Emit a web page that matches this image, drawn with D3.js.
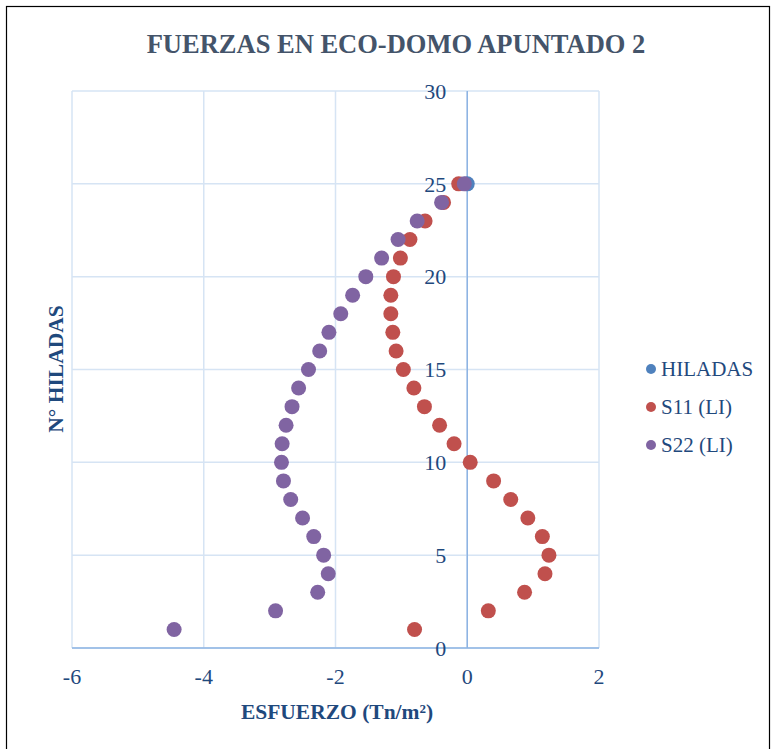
<!DOCTYPE html>
<html>
<head>
<meta charset="utf-8">
<script src="https://cdn.jsdelivr.net/npm/d3@7"></script>
<style>
  body { margin: 0; background: #fff; }
  text { font-family: "Liberation Serif", "Times New Roman", serif; }
</style>
</head>
<body>
<div id="chart"></div>
<script>
const hiladas = [25];
const hiladasX = [0.0];

const rows = [1, 2, 3, 4, 5, 6, 7, 8, 9, 10, 11, 12, 13, 14, 15, 16, 17, 18, 19, 20, 21, 22, 23, 24, 25];
const s11 = [-0.80, 0.32, 0.87, 1.18, 1.24, 1.14, 0.92, 0.66, 0.40, 0.045, -0.20, -0.42, -0.65, -0.81, -0.97,
             -1.08, -1.13, -1.16, -1.16, -1.12, -1.015, -0.87, -0.64, -0.36, -0.13];
const s22 = [-4.45, -2.91, -2.27, -2.11, -2.18, -2.33, -2.50, -2.68, -2.79, -2.82, -2.81, -2.75, -2.66, -2.56, -2.41,
             -2.24, -2.10, -1.92, -1.74, -1.54, -1.30, -1.05, -0.76, -0.39, -0.045];

const xTicks = [-6, -4, -2, 0, 2];
const yTicks = [0, 5, 10, 15, 20, 25, 30];

const seriesNames = ['HILADAS', 'S11 (LI)', 'S22 (LI)'];
const colors = ['#4f81bd', '#c0504d', '#8064a2'];

const W = 772, H = 749;
const margin = {top: 91, right: 173, bottom: 101, left: 72};
const width = W - margin.left - margin.right,
      height = H - margin.top - margin.bottom;

const svg = d3.select('#chart').append('svg').attr('width', W).attr('height', H);

svg.append('rect')
    .attr('x', 6.5).attr('y', 6.5)
    .attr('width', 763).attr('height', 750)
    .attr('fill', 'none').attr('stroke', '#000').attr('stroke-width', 1.2);

svg.append('text')
    .attr('x', 396).attr('y', 53)
    .attr('text-anchor', 'middle')
    .attr('font-size', 26.5).attr('font-weight', 'bold')
    .attr('fill', '#44546a')
    .text('FUERZAS EN ECO-DOMO APUNTADO 2');

const x = d3.scaleLinear().domain([-6, 2]).range([0, width]);
const y = d3.scaleLinear().domain([0, 30]).range([height, 0]);

const g = svg.append('g').attr('transform', `translate(${margin.left},${margin.top})`);

// grid
g.append('g').selectAll('line').data(xTicks).join('line')
    .attr('x1', d => x(d)).attr('x2', d => x(d))
    .attr('y1', 0).attr('y2', height)
    .attr('stroke', '#d6e4f4').attr('stroke-width', 1.5);
g.append('g').selectAll('line').data(yTicks).join('line')
    .attr('x1', 0).attr('x2', width)
    .attr('y1', d => y(d)).attr('y2', d => y(d))
    .attr('stroke', '#d6e4f4').attr('stroke-width', 1.5);

// axes lines
g.append('line')
    .attr('x1', x(0)).attr('x2', x(0)).attr('y1', 0).attr('y2', height)
    .attr('stroke', '#8eb4e3').attr('stroke-width', 1.5);
g.append('line')
    .attr('x1', 0).attr('x2', width).attr('y1', height).attr('y2', height)
    .attr('stroke', '#8eb4e3').attr('stroke-width', 1.5);

// tick labels
g.append('g').selectAll('text').data(yTicks).join('text')
    .attr('x', x(0) - 21).attr('y', d => y(d)).attr('dy', '0.35em')
    .attr('text-anchor', 'end')
    .attr('font-size', 22).attr('fill', '#1f497d')
    .text(d => d);
g.append('g').selectAll('text').data(xTicks).join('text')
    .attr('x', d => x(d)).attr('y', height + 36)
    .attr('text-anchor', 'middle')
    .attr('font-size', 22).attr('fill', '#1f497d')
    .text(d => d);

// axis titles
svg.append('text')
    .attr('x', 337).attr('y', 719)
    .attr('text-anchor', 'middle')
    .attr('font-size', 21.5).attr('font-weight', 'bold').attr('fill', '#1f497d')
    .text('ESFUERZO (Tn/m²)');
svg.append('text')
    .attr('transform', `translate(63,369) rotate(-90)`)
    .attr('text-anchor', 'middle')
    .attr('font-size', 21.5).attr('font-weight', 'bold').attr('fill', '#1f497d')
    .text('N° HILADAS');

// points
const data = [
    hiladas.map((r, i) => ({x: hiladasX[i], y: r})),
    rows.map((r, i) => ({x: s11[i], y: r})),
    rows.map((r, i) => ({x: s22[i], y: r}))
];
data.forEach((pts, si) => {
    g.append('g').selectAll('circle').data(pts).join('circle')
        .attr('cx', d => x(d.x)).attr('cy', d => y(d.y))
        .attr('r', 7.5)
        .attr('fill', colors[si]);
});

// legend
const legend = svg.append('g').attr('transform', 'translate(651,369)');
seriesNames.forEach((name, i) => {
    legend.append('circle')
        .attr('cx', 0).attr('cy', i * 38).attr('r', 5)
        .attr('fill', colors[i]);
    legend.append('text')
        .attr('x', 10).attr('y', i * 38).attr('dy', '0.35em')
        .attr('font-size', 21).attr('fill', '#1f497d')
        .text(name);
});
</script>
</body>
</html>
